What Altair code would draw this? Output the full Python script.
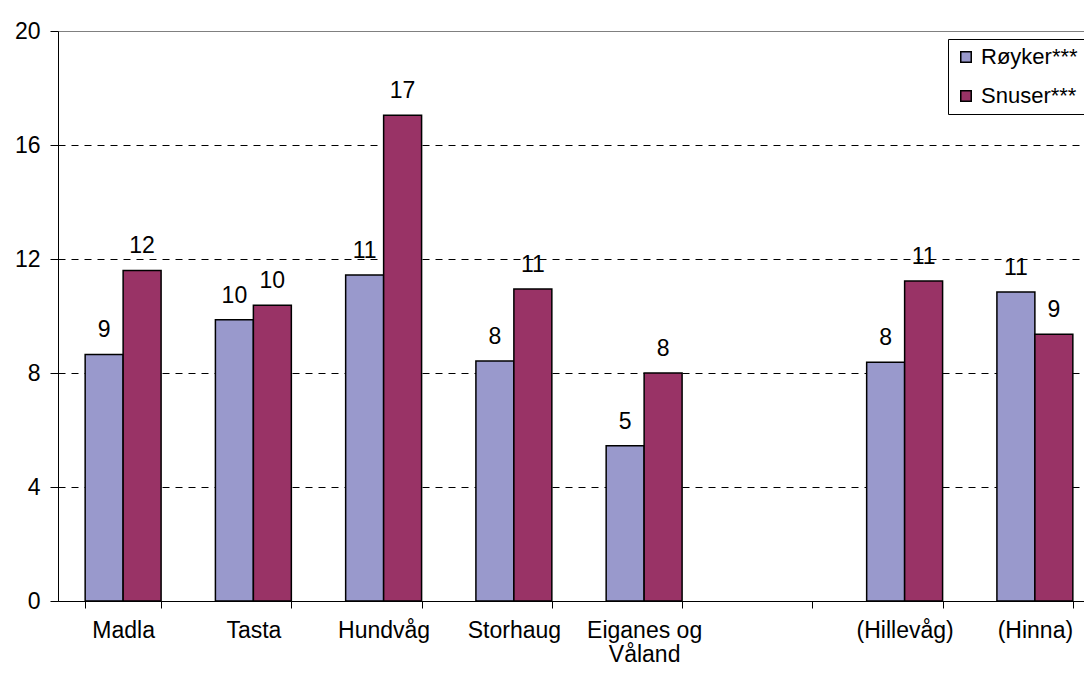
import altair as alt
import pandas as pd

categories = ["Madla", "Tasta", "Hundvåg", "Storhaug", "Eiganes og Våland", " ", "(Hillevåg)", "(Hinna)"]
series = ["Røyker***", "Snuser***"]
royker = [8.65, 9.87, 11.44, 8.42, 5.45, None, 8.38, 10.84]
snuser = [11.6, 10.38, 17.04, 10.95, 8.0, None, 11.23, 9.36]
colors = ["#9999CC", "#993366"]
y_ticks = [0, 4, 8, 12, 16, 20]

rows = []
for cat, r, s in zip(categories, royker, snuser):
    if r is not None:
        rows.append({"Område": cat, "Serie": series[0], "Verdi": r})
    if s is not None:
        rows.append({"Område": cat, "Serie": series[1], "Verdi": s})
df = pd.DataFrame(rows)

FONT = "Liberation Sans"
FS = 23

x_axis = alt.Axis(
    title=None,
    labelAngle=0,
    tickBand="extent",
    tickSize=7,
    tickColor="black",
    domainColor="black",
    labelFontSize=FS,
    labelColor="black",
    labelPadding=11,
    labelLineHeight=24,
    labelLimit=0,
    labelOverlap=False,
    grid=False,
    labelExpr="datum.label == 'Eiganes og Våland' ? ['Eiganes og', 'Våland'] : datum.label",
)

y_axis = alt.Axis(
    title=None,
    values=y_ticks,
    tickSize=8,
    tickColor="black",
    domainColor="black",
    labelFontSize=FS,
    labelColor="black",
    labelPadding=10,
    grid=True,
    gridColor={"condition": {"test": "datum.value == 20", "value": "#808080"}, "value": "black"},
    gridDash={"condition": {"test": "datum.value == 20", "value": []}, "value": [7, 6]},
    gridWidth=1,
)

base = alt.Chart(df).encode(
    x=alt.X("Område:N", sort=categories,
            scale=alt.Scale(domain=categories, range=[0, 1042],
                            paddingInner=0.417, paddingOuter=0.2085),
            axis=x_axis),
    xOffset=alt.XOffset("Serie:N", scale=alt.Scale(domain=series, paddingInner=0, paddingOuter=0)),
    y=alt.Y("Verdi:Q", scale=alt.Scale(domain=[0, 20], nice=False), axis=y_axis),
)

bars = base.mark_bar(stroke="black", strokeWidth=1.5).encode(
    color=alt.Color(
        "Serie:N",
        scale=alt.Scale(domain=series, range=colors),
        legend=alt.Legend(
            title=None,
            orient="none",
            legendX=890,
            legendY=8,
            strokeColor="black",
            fillColor="white",
            padding=7,
            rowPadding=17,
            symbolType="square",
            symbolSize=110,
            symbolStrokeColor="black",
            symbolStrokeWidth=1.5,
            labelFontSize=22,
            labelColor="black",
            labelOffset=4,
        ),
    )
)

labels = base.mark_text(dy=-17, baseline="alphabetic", fontSize=FS, color="black").encode(
    text=alt.Text("Verdi:Q", format=".0f")
)

chart = (
    alt.layer(bars, labels)
    .properties(
        width=1026,
        height=570,
        autosize=alt.AutoSizeParams(type="none"),
        padding={"left": 50, "top": 23, "right": 0, "bottom": 66},
    )
    .configure(font=FONT)
    .configure_view(strokeWidth=0)
)

chart.save("out.html", embed_options={"renderer": "svg", "actions": False})
